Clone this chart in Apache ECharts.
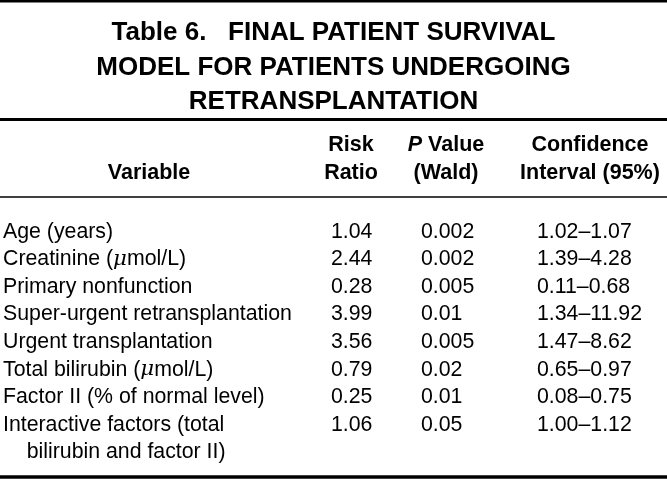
<!DOCTYPE html>
<html>
<head>
<meta charset="utf-8">
<script src="https://cdn.jsdelivr.net/npm/echarts@6/dist/echarts.min.js"></script>
<style>
  html, body { margin: 0; padding: 0; background: #fff; }
  #chart { width: 667px; height: 479px; }
</style>
</head>
<body>
<div id="chart"></div>
<script>
// ---- Data ----
var titleLines = [
  'Table 6.   FINAL PATIENT SURVIVAL',
  'MODEL FOR PATIENTS UNDERGOING',
  'RETRANSPLANTATION'
];
var headerVariable = ['Variable'];
var headerRisk = ['Risk', 'Ratio'];
var headerP = ['{i|P} Value', '(Wald)'];
var headerCI = ['Confidence', 'Interval (95%)'];

var variables = [
  'Age (years)',
  'Creatinine (μmol/L)',
  'Primary nonfunction',
  'Super-urgent retransplantation',
  'Urgent transplantation',
  'Total bilirubin (μmol/L)',
  'Factor II (% of normal level)',
  'Interactive factors (total\nbilirubin and factor II)'
];
var riskRatio = [1.04, 2.44, 0.28, 3.99, 3.56, 0.79, 0.25, 1.06];
var pValue = [0.002, 0.002, 0.005, 0.01, 0.005, 0.02, 0.01, 0.05];
var ciLower = [1.02, 1.39, 0.11, 1.34, 1.47, 0.65, 0.08, 1.00];
var ciUpper = [1.07, 4.28, 0.68, 11.92, 8.62, 0.97, 0.75, 1.12];

// ---- Layout / style ----
var FONT = '"Liberation Sans", Arial, Helvetica, sans-serif';
var ROW_H = 27.55;
var GRID_TOP = 204.4;
var colAnchors = [2, 330, 420, 536];   // left edge of each column's text
var INK = '#000';
var BODY_SIZE = 21.3;

var chart = echarts.init(document.getElementById('chart'), null, { renderer: 'canvas' });

var columns = [
  { key: 'Variable', fmt: function (i) {
      return variables[i].replace(/\n/g, '\n    ').replace(/μ/g, '{mu|μ}');
  } },
  { key: 'Risk Ratio', fmt: function (i) { return riskRatio[i].toFixed(2); } },
  { key: 'P Value', fmt: function (i) { return String(pValue[i]); } },
  { key: 'Confidence Interval', fmt: function (i) {
      return ciLower[i].toFixed(2) + '–' + ciUpper[i].toFixed(2);
  } }
];

var grids = [], xAxes = [], yAxes = [], series = [];
columns.forEach(function (col, c) {
  grids.push({ left: colAnchors[c] - 1, width: 2, top: GRID_TOP, height: ROW_H * variables.length });
  xAxes.push({ type: 'category', gridIndex: c, data: [col.key], show: false });
  yAxes.push({ type: 'category', gridIndex: c, data: variables, inverse: true, show: false });
  series.push({
    type: 'scatter',
    xAxisIndex: c,
    yAxisIndex: c,
    symbolSize: 2,
    clip: false,
    itemStyle: { color: 'rgba(255,255,255,0)' },
    silent: true,
    data: variables.map(function (v, i) { return [0, i]; }),
    labelLayout: { hideOverlap: false },
    label: {
      show: true,
      position: 'right',
      distance: 0,
      align: 'left',
      verticalAlign: 'top',
      lineHeight: ROW_H,
      fontSize: BODY_SIZE,
      fontFamily: FONT,
      color: INK,
      opacity: 1,
      formatter: function (p) { return col.fmt(p.dataIndex); },
      rich: {
        mu: { fontSize: BODY_SIZE, fontFamily: '"DejaVu Serif", "Liberation Serif", serif', fontStyle: 'italic', color: INK, lineHeight: ROW_H }
      }
    }
  });
});

function headerText(lines, x, align) {
  return lines.map(function (t, k) {
    return {
      type: 'text',
      silent: true,
      style: {
        text: t,
        x: x,
        y: 145 + k * 28,
        textAlign: align,
        textVerticalAlign: 'middle',
        fontSize: 21.5,
        fontWeight: 'bold',
        fontFamily: FONT,
        fill: INK,
        rich: { i: { fontStyle: 'italic', fontWeight: 'bold', fontSize: 21.5, fontFamily: FONT, fill: INK } }
      }
    };
  });
}

function rule(y, w) {
  return { type: 'line', silent: true, shape: { x1: 0, y1: y, x2: 667, y2: y }, style: { stroke: '#000', lineWidth: w } };
}

var graphics = [].concat(
  [rule(1.3, 2.6), rule(119.5, 3), rule(197, 1.5), rule(477, 3.6)],
  titleLines.map(function (t, k) {
    return {
      type: 'text', silent: true,
      style: {
        text: t, x: 333.5, y: 33 + k * 34.5,
        textAlign: 'center', textVerticalAlign: 'middle',
        fontSize: 26, fontWeight: 'bold', fontFamily: FONT, fill: INK
      }
    };
  }),
  headerText(headerVariable, 149, 'center').map(function (g) { g.style.y = 173; return g; }),
  headerText(headerRisk, 351, 'center'),
  headerText(headerP, 446, 'center'),
  headerText(headerCI, 590, 'center')
);

chart.setOption({
  animation: false,
  backgroundColor: '#fff',
  grid: grids,
  xAxis: xAxes,
  yAxis: yAxes,
  series: series,
  graphic: graphics
});
</script>
</body>
</html>
